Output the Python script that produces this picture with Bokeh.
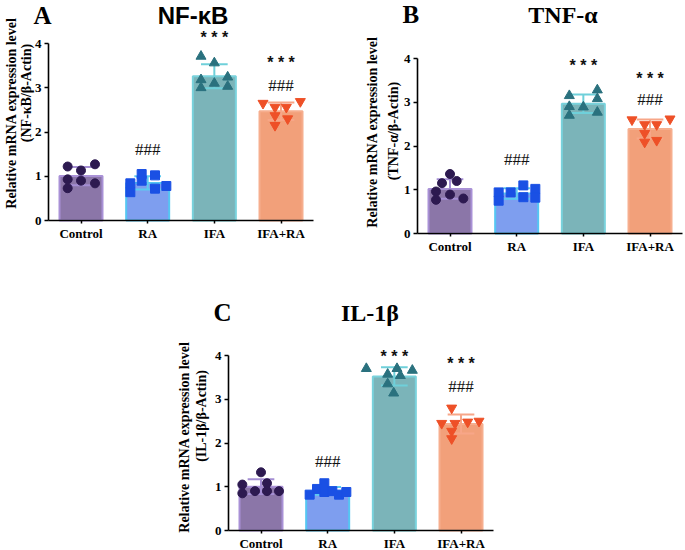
import numpy as np
from math import pi
from bokeh.plotting import figure
from bokeh.models import Range1d, FixedTicker, Label, Spacer, LinearAxis
from bokeh.layouts import row, column
from bokeh.embed import file_html
from bokeh.resources import INLINE

# ---------------- data ----------------
groups = ["Control", "RA", "IFA", "IFA+RA"]
y_ticks = [0, 1, 2, 3, 4]

nfkb_control = [1.22, 1.27, 1.13, 0.93, 0.90, 0.84, 0.73]
nfkb_ra = [0.84, 1.05, 1.02, 0.78, 0.64, 0.90, 0.72]
nfkb_ifa = [3.71, 3.56, 3.24, 3.18, 3.10, 3.03, 3.00]
nfkb_ifa_ra = [2.65, 2.69, 2.56, 2.56, 2.37, 2.30, 2.15]

tnf_control = [1.36, 1.15, 1.20, 0.96, 0.89, 0.77, 0.80]
tnf_ra = [0.94, 0.94, 1.10, 1.02, 0.75, 0.83, 0.82]
tnf_ifa = [3.15, 3.28, 3.08, 2.90, 2.89, 2.70, 2.77]
tnf_ifa_ra = [2.60, 2.62, 2.49, 2.49, 2.29, 2.09, 2.13]

il1b_control = [1.33, 1.05, 1.08, 0.85, 0.90, 0.90, 0.90]
il1b_ra = [1.08, 0.95, 0.82, 0.88, 0.90, 0.82, 0.88]
il1b_ifa = [3.70, 3.70, 3.66, 3.57, 3.54, 3.35, 3.14]
il1b_ifa_ra = [2.80, 2.45, 2.45, 2.48, 2.50, 2.27, 2.10]

# significance marks: (group index, text)
nfkb_marks = [(2, "* * *"), (1, "###"), (3, "###"), (3, "* * *")]
tnf_marks = [(2, "* * *"), (1, "###"), (3, "###"), (3, "* * *")]
il1b_marks = [(2, "* * *"), (1, "###"), (3, "###"), (3, "* * *")]

# ---------------- layout / style ----------------
# horizontal spread of the dots (fraction of category spacing)
nfkb_jit = [
    [-0.2, 0.21, 0.0, -0.2, 0.0, 0.21, -0.2],
    [-0.26, -0.09, 0.11, 0.28, -0.26, -0.09, 0.11],
    [-0.2, 0.0, 0.2, -0.2, 0.0, 0.2, -0.2],
    [-0.27, 0.29, -0.09, 0.08, -0.09, 0.1, -0.09],
]
tnf_jit = [
    [0.0, -0.12, 0.1, -0.21, 0.0, -0.21, 0.2],
    [-0.27, -0.09, 0.1, 0.28, -0.27, 0.1, 0.28],
    [-0.21, 0.21, 0.21, -0.21, 0.0, -0.21, 0.21],
    [-0.27, 0.3, -0.08, 0.1, -0.08, -0.08, 0.1],
]
il1b_jit = [
    [0.0, -0.28, 0.09, -0.28, -0.09, 0.09, 0.27],
    [-0.05, -0.16, -0.27, -0.05, 0.07, 0.17, 0.28],
    [-0.42, 0.04, 0.27, -0.1, 0.09, -0.1, -0.01],
    [-0.14, -0.29, -0.09, 0.1, 0.27, -0.14, -0.14],
]

fills = ["#8b76a8", "#7e9eef", "#7bb4b9", "#f2a07a"]
borders = ["#a991d6", "#55c6f2", "#79d2dc", "#f6ae8e"]
errcols = ["#a48ed3", "#5ccaf0", "#6fd0da", "#f7a688"]
dotcols = ["#2d1a50", "#1a50e4", "#2a717e", "#ee5027"]
markers = ["circle", "square", "triangle", "inverted_triangle"]
msizes = [9, 9, 10, 10]

SERIF = "Liberation Serif"
SANS = "Liberation Sans"
BAR_W = 0.645
CAP_W = 0.40
X0, X1 = -0.4875, 3.4875
PX_X = 66.67  # pixels per category


def panel(series, jit, marks, mark_off, letter, title, title_font, ylab2,
          W, H, ax_left, y0_px, y4_px, title_dx, ylab_dx, ylab_dy):
    py = (y0_px - y4_px) / 4.0
    xr = Range1d(X0 - ax_left / PX_X, X0 + (W - ax_left) / PX_X)
    yr = Range1d(-(H - y0_px) / py, 4 + y4_px / py)
    p = figure(width=W, height=H, output_backend="svg", title=None,
               toolbar_location=None, x_range=xr, y_range=yr, min_border=0,
               x_axis_type=None, y_axis_type=None)
    p.outline_line_color = None
    p.background_fill_color = "white"
    p.border_fill_color = "white"

    xs = list(range(len(groups)))
    means = [float(np.mean(v)) for v in series]
    sds = [float(np.std(v, ddof=1)) for v in series]

    p.vbar(x=xs, top=means, bottom=0, width=BAR_W, fill_color=fills,
           line_color=borders, line_width=2)

    # error bars (mean ± SD)
    ups = [m + s for m, s in zip(means, sds)]
    los = [m - s for m, s in zip(means, sds)]
    p.segment(x0=xs, x1=xs, y0=los, y1=ups, line_color=errcols, line_width=2)
    p.segment(x0=[x - CAP_W / 2 for x in xs], x1=[x + CAP_W / 2 for x in xs],
              y0=ups, y1=ups, line_color=errcols, line_width=2)
    p.segment(x0=[x - CAP_W / 2 for x in xs], x1=[x + CAP_W / 2 for x in xs],
              y0=los, y1=los, line_color=errcols, line_width=2)

    # individual dots
    for i, vals in enumerate(series):
        px = [i + j for j in jit[i]]
        p.scatter(px, vals, marker=markers[i], size=msizes[i],
                  fill_color=dotcols[i], line_color=dotcols[i])

    # significance marks
    for (gi, txt), off in zip(marks, mark_off):
        is_star = txt.startswith("*")
        p.add_layout(Label(x=gi, y=ups[gi], y_offset=off, text=txt,
                           text_align="center", text_baseline="middle",
                           text_font=SANS if is_star else SERIF,
                           text_font_style="bold" if is_star else "normal",
                           text_font_size="16px" if is_star else "17px",
                           text_color="#111111"))

    # axes, pinned to the data origin
    yax = LinearAxis(ticker=FixedTicker(ticks=y_ticks), fixed_location=X0,
                     bounds=(0, 4))
    xax = LinearAxis(ticker=FixedTicker(ticks=xs), fixed_location=0,
                     bounds=(X0, X1))
    xax.major_label_overrides = {i: g for i, g in enumerate(groups)}
    for ax in (xax, yax):
        ax.axis_line_width = 1.6
        ax.axis_line_color = "black"
        ax.major_tick_line_width = 1.5
        ax.major_tick_line_color = "black"
        ax.major_tick_in = 0
        ax.major_tick_out = 4
        ax.minor_tick_line_color = None
        ax.major_label_text_font = SERIF
        ax.major_label_text_font_style = "bold"
        ax.major_label_text_font_size = "13px"
        ax.major_label_text_color = "black"
    xax.major_label_standoff = 2
    xax.major_tick_out = 3
    yax.major_label_standoff = 3
    p.add_layout(yax, "left")
    p.add_layout(xax, "below")

    # titles
    p.add_layout(Label(x=X0, y=4, x_offset=-15, y_offset=title_dx[1],
                       text=letter, text_align="left", text_baseline="middle",
                       text_font=SERIF, text_font_style="bold",
                       text_font_size="25px", text_color="black"))
    p.add_layout(Label(x=1.5, y=4, x_offset=title_dx[0], y_offset=title_dx[1],
                       text=title, text_align="center", text_baseline="middle",
                       text_font=title_font, text_font_style="bold",
                       text_font_size="24px", text_color="black"))

    # y-axis label (two lines)
    p.add_layout(Label(x=X0, y=2, x_offset=ylab_dx[0], y_offset=ylab_dy[0],
                       angle=pi / 2, text="Relative mRNA expression level",
                       text_align="center", text_baseline="middle",
                       text_font=SERIF, text_font_style="bold",
                       text_font_size="14px", text_color="black"))
    p.add_layout(Label(x=X0, y=2, x_offset=ylab_dx[1], y_offset=ylab_dy[1],
                       angle=pi / 2, text=ylab2,
                       text_align="center", text_baseline="middle",
                       text_font=SERIF, text_font_style="bold",
                       text_font_size="14px", text_color="black"))
    return p


pA = panel([nfkb_control, nfkb_ra, nfkb_ifa, nfkb_ifa_ra], nfkb_jit,
           nfkb_marks, [27, 27, 17, 40], "A", "NF-κB", SANS,
           "(NF-κB/β-Actin)", 345, 268, 48, 220, 43,
           (12, 28), (-37, -22), (19, 39))
pB = panel([tnf_control, tnf_ra, tnf_ifa, tnf_ifa_ra], tnf_jit,
           tnf_marks, [29, 29, 20, 41], "B", "TNF-α", SERIF,
           "(TNF-α/β-Actin)", 340, 268, 72, 233, 58,
           (13, 44), (-45, -24), (14, 15))
pC = panel([il1b_control, il1b_ra, il1b_ifa, il1b_ifa_ra], il1b_jit,
           il1b_marks, [11, 26, 28, 51], "C", "IL-1β", SERIF,
           "(IL-1β/β-Actin)", 340, 282, 58, 262, 87,
           (9, 43), (-44, -27), (6, 27))

layout = column(row(pA, pB), row(Spacer(width=170, height=282), pC))

open("out.html", "w").write(file_html(layout, INLINE))
